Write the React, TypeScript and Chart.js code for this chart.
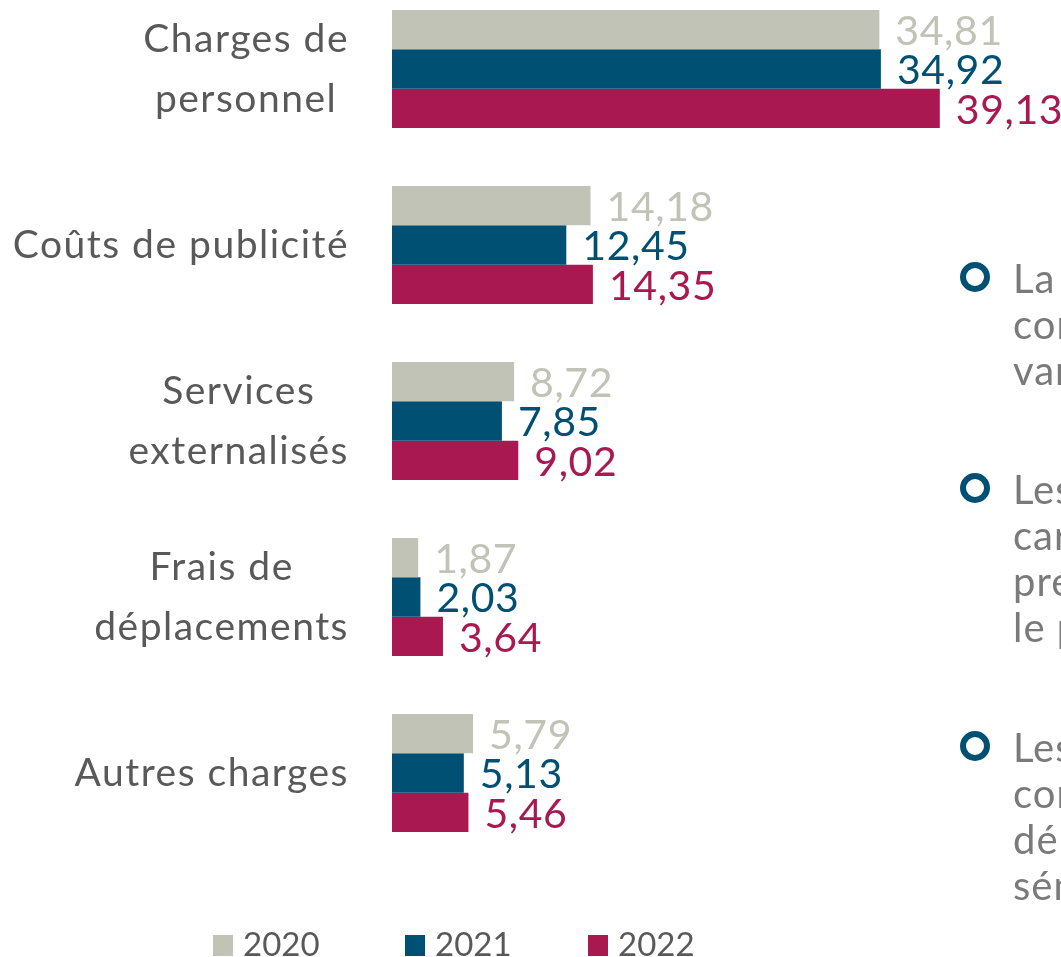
import React, { useEffect, useRef } from "react";
import { Chart, registerables } from "chart.js";

Chart.register(...registerables);

const categories: string[][] = [
  ["Charges de", "personnel"],
  ["Coûts de publicité"],
  ["Services", "externalisés"],
  ["Frais de", "déplacements"],
  ["Autres charges"],
];
const years = ["2020", "2021", "2022"];
const values2020 = [34.81, 14.18, 8.72, 1.87, 5.79];
const values2021 = [34.92, 12.45, 7.85, 2.03, 5.13];
const values2022 = [39.13, 14.35, 9.02, 3.64, 5.46];
const seriesColors = ["#C0C3B6", "#005073", "#AA1852"];

const bulletTexts: string[][] = [
  ["La masse salariale", "connaît une", "variation notable"],
  ["Les coûts de publicité", "caractère saisonnier", "précédent exercice", "le plus élevé"],
  ["Les autres charges", "concernent les", "dépenses de", "séminaires"],
];

const OFFSET = 19;
const FONT = "Lato, 'Open Sans', sans-serif";

const labelPlugin = {
  id: "customLabels",
  afterDatasetsDraw(chart: any) {
    const ctx = chart.ctx as any;
    const yScale = chart.scales.y;
    ctx.save();
    // category labels
    ctx.font = `39px ${FONT}`;
    ctx.letterSpacing = "1.5px";
    ctx.fillStyle = "#595959";
    ctx.textBaseline = "middle";
    ctx.textAlign = "center";
    (chart.data.labels as string[][]).forEach((lab, i) => {
      const lines = Array.isArray(lab) ? lab : [lab];
      const w = Math.max(...lines.map((l) => ctx.measureText(l).width));
      const cx = 349 - w / 2;
      const cy = yScale.getPixelForValue(i);
      const lh = 60;
      lines.forEach((l, j) => ctx.fillText(l, cx, cy + (j - (lines.length - 1) / 2) * lh));
    });
    // value labels
    ctx.font = `41px ${FONT}`;
    ctx.letterSpacing = "0.6px";
    ctx.textAlign = "left";
    chart.data.datasets.forEach((ds: any, di: number) => {
      const meta = chart.getDatasetMeta(di);
      meta.data.forEach((bar: any, i: number) => {
        const v = ds.data[i] as number;
        ctx.fillStyle = ds.backgroundColor;
        ctx.fillText(v.toFixed(2).replace(".", ","), bar.x + 16, bar.y + 2);
      });
    });
    // legend
    const legendX = [213, 405, 588];
    ctx.font = `33px ${FONT}`;
    ctx.letterSpacing = "0px";
    ctx.textBaseline = "alphabetic";
    chart.data.datasets.forEach((ds: any, di: number) => {
      const x = legendX[di];
      ctx.fillStyle = ds.backgroundColor;
      ctx.fillRect(x, 935 + OFFSET, 20, 21);
      ctx.fillStyle = "#595959";
      ctx.fillText(ds.label, x + 30, 956 + OFFSET);
    });
    ctx.restore();
  },
};

export default function App() {
  const ref = useRef<HTMLCanvasElement | null>(null);
  useEffect(() => {
    document.body.style.margin = "0";
    if (!ref.current) return;
    const series = [values2020, values2021, values2022];
    const chart = new Chart(ref.current, {
      type: "bar",
      data: {
        labels: categories as any,
        datasets: years.map((y, i) => ({
          label: y,
          data: series[i],
          backgroundColor: seriesColors[i],
          borderWidth: 0,
          categoryPercentage: 118 / 176,
          barPercentage: 1,
        })),
      },
      options: {
        indexAxis: "y",
        responsive: false,
        animation: false,
        layout: { padding: { left: 392, right: 0, top: 0, bottom: 976 - 880 } },
        scales: {
          x: { display: false, min: 0, max: 669 / 14, grid: { display: false } },
          y: { display: false, grid: { display: false } },
        },
        plugins: {
          legend: { display: false },
          tooltip: { enabled: false },
        },
      },
      plugins: [labelPlugin],
    });
    return () => chart.destroy();
  }, []);

  const ringCenters = [277, 488, 746];
  return (
    <div
      style={{
        position: "fixed",
        left: 0,
        top: 0,
        width: 1061,
        height: 957,
        overflow: "hidden",
        background: "#fff",
      }}
    >
      <canvas
        ref={ref}
        width={1061}
        height={976}
        style={{ position: "absolute", left: 0, top: -OFFSET, width: 1061, height: 976 }}
      />
      {bulletTexts.map((lines, i) => (
        <React.Fragment key={i}>
          <div
            style={{
              position: "absolute",
              left: 960,
              top: ringCenters[i] - 15,
              width: 30,
              height: 30,
              boxSizing: "border-box",
              border: "6px solid #005073",
              borderRadius: "50%",
            }}
          />
          <div
            style={{
              position: "absolute",
              left: 1013,
              top: ringCenters[i] - 22,
              fontFamily: FONT,
              fontSize: 40,
              lineHeight: "46px",
              letterSpacing: "1px",
              color: "#7a7a7a",
              whiteSpace: "nowrap",
            }}
          >
            {lines.map((l, j) => (
              <div key={j}>{l}</div>
            ))}
          </div>
        </React.Fragment>
      ))}
    </div>
  );
}
